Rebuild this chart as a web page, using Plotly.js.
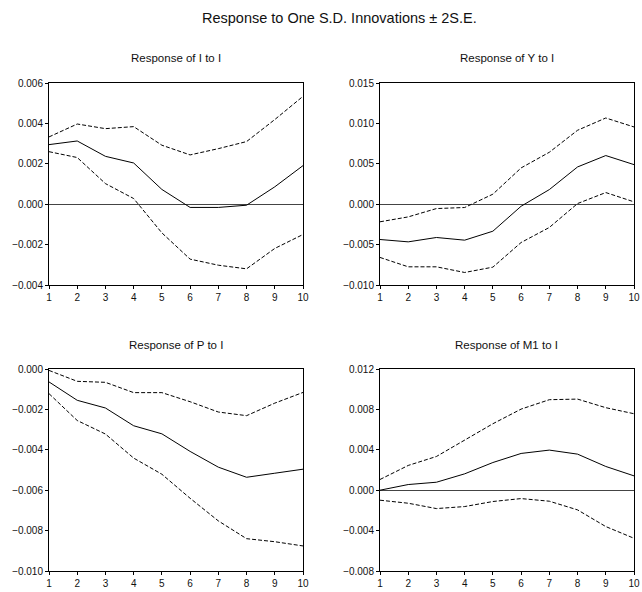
<!DOCTYPE html>
<html>
<head>
<meta charset="utf-8">
<script src="https://cdn.plot.ly/plotly-3.0.1.min.js"></script>
<style>html,body{margin:0;padding:0;background:#fff;}#chart{width:642px;height:592px;}</style>
</head>
<body>
<div id="chart"></div>
<script>
const periods = [1,2,3,4,5,6,7,8,9,10];

const panelTitles = ["Response of I to I", "Response of Y to I", "Response of P to I", "Response of M1 to I"];

const iToI      = [0.00295, 0.00313, 0.00237, 0.00204, 0.00073, -0.00016, -0.00016, -0.00005, 0.00086, 0.00191];
const iToIUpper = [0.00333, 0.00397, 0.00374, 0.00384, 0.00292, 0.00244, 0.00275, 0.00310, 0.00419, 0.00534];
const iToILower = [0.00260, 0.00231, 0.00102, 0.00028, -0.00142, -0.00272, -0.00302, -0.00320, -0.00219, -0.00150];

const yToI      = [-0.00437, -0.00466, -0.00412, -0.00445, -0.00334, -0.00025, 0.00181, 0.00461, 0.00602, 0.00490];
const yToIUpper = [-0.00218, -0.00157, -0.00054, -0.00041, 0.00124, 0.00449, 0.00643, 0.00915, 0.01067, 0.00956];
const yToILower = [-0.00659, -0.00775, -0.00775, -0.00845, -0.00779, -0.00474, -0.00288, 0.00008, 0.00144, 0.00029];

const pToI      = [-0.00064, -0.00155, -0.00193, -0.00281, -0.00321, -0.00408, -0.00486, -0.00536, -0.00516, -0.00496];
const pToIUpper = [-0.00007, -0.00061, -0.00066, -0.00117, -0.00117, -0.00162, -0.00213, -0.00231, -0.00169, -0.00116];
const pToILower = [-0.00122, -0.00255, -0.00322, -0.00441, -0.00521, -0.00640, -0.00752, -0.00840, -0.00855, -0.00876];

const m1ToI      = [0.00000, 0.00056, 0.00079, 0.00162, 0.00274, 0.00364, 0.00397, 0.00357, 0.00235, 0.00142];
const m1ToIUpper = [0.00106, 0.00245, 0.00334, 0.00493, 0.00658, 0.00803, 0.00896, 0.00902, 0.00817, 0.00757];
const m1ToILower = [-0.00099, -0.00129, -0.00182, -0.00162, -0.00112, -0.00083, -0.00109, -0.00195, -0.00360, -0.00476];

const yRanges = [[-0.004, 0.006], [-0.010, 0.015], [-0.010, 0.000], [-0.008, 0.012]];
const yTicks = [
  [-0.004, -0.002, 0.000, 0.002, 0.004, 0.006],
  [-0.010, -0.005, 0.000, 0.005, 0.010, 0.015],
  [-0.010, -0.008, -0.006, -0.004, -0.002, 0.000],
  [-0.008, -0.004, 0.000, 0.004, 0.008, 0.012]
];

const series = [
  [iToI, iToIUpper, iToILower],
  [yToI, yToIUpper, yToILower],
  [pToI, pToIUpper, pToILower],
  [m1ToI, m1ToIUpper, m1ToILower]
];

const W = 642, H = 592;
const xDomains = [[49/W, 303/W], [380/W, 634/W], [49/W, 303/W], [380/W, 634/W]];
const yDomains = [[1-285/H, 1-83/H], [1-285/H, 1-83/H], [1-571/H, 1-369/H], [1-571/H, 1-369/H]];

const FONT = "Liberation Sans, Arial, sans-serif";
const traces = [];
const layout = {
  width: W, height: H,
  margin: {l: 0, r: 0, t: 0, b: 0},
  paper_bgcolor: "#fff", plot_bgcolor: "#fff",
  showlegend: false,
  font: {family: FONT, color: "#000", size: 10},
  annotations: [{
    text: "Response to One S.D. Innovations ± 2S.E.",
    xref: "paper", yref: "paper", x: 340/W, y: 1-18/H,
    xanchor: "center", yanchor: "middle", showarrow: false,
    font: {family: FONT, size: 14.5, color: "#111"}
  }],
  shapes: []
};

series.forEach((s, i) => {
  const n = i + 1;
  const xa = n === 1 ? "x" : "x" + n;
  const ya = n === 1 ? "y" : "y" + n;
  const styles = [
    {color: "#000", width: 1, dash: "solid"},
    {color: "#000", width: 1, dash: "4px,2px"},
    {color: "#000", width: 1, dash: "4px,2px"}
  ];
  s.forEach((vals, k) => {
    traces.push({x: periods, y: vals, xaxis: xa, yaxis: ya, type: "scatter", mode: "lines",
      line: styles[k], hoverinfo: "skip"});
  });
  layout["xaxis" + (n === 1 ? "" : n)] = {
    domain: xDomains[i], anchor: ya, range: [1, 10],
    tickvals: periods, ticktext: periods.map(String),
    ticks: "outside", ticklen: 3, tickcolor: "#000", tickwidth: 1,
    showline: true, linecolor: "#000", linewidth: 1, mirror: true,
    showgrid: false, zeroline: false,
    tickfont: {family: FONT, size: 10, color: "#111"}
  };
  layout["yaxis" + (n === 1 ? "" : n)] = {
    domain: yDomains[i], anchor: xa, range: yRanges[i],
    tickvals: yTicks[i], tickformat: ".3f",
    ticks: "outside", ticklen: 3, tickcolor: "#000", tickwidth: 1,
    showline: true, linecolor: "#000", linewidth: 1, mirror: true,
    showgrid: false, zeroline: true, zerolinecolor: "#444", zerolinewidth: 1,
    tickfont: {family: FONT, size: 10, color: "#111"}
  };
  const titleY = i < 2 ? 1 - 58/H : 1 - 345/H;
  layout.annotations.push({
    text: panelTitles[i], xref: "paper", yref: "paper",
    x: (xDomains[i][0] + xDomains[i][1]) / 2, y: titleY,
    xanchor: "center", yanchor: "middle", showarrow: false,
    font: {family: FONT, size: 11.5, color: "#111"}
  });
});

Plotly.newPlot("chart", traces, layout, {displayModeBar: false, staticPlot: true});
</script>
</body>
</html>
